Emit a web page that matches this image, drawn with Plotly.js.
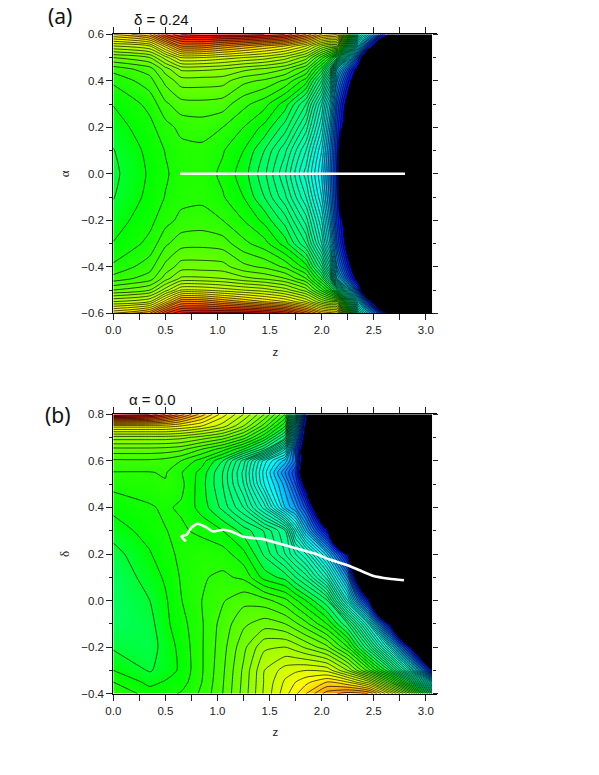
<!DOCTYPE html>
<html>
<head>
<meta charset="utf-8">
<script src="https://cdn.plot.ly/plotly-3.0.1.min.js"></script>
<style>
  html, body { margin: 0; padding: 0; background: #fff; }
  #plot-div { width: 599px; height: 775px; }
</style>
</head>
<body>
<div id="plot-div"></div>
<script>
// Panel (a), grid, in contour steps
const zGridA = [0, 0.35, 0.5, 0.65, 0.85, 1.05, 1.25, 1.45, 1.65, 1.85, 2.0, 2.08, 2.15, 2.35, 2.55, 2.8, 3.06];
const alphaGrid = [-0.6, -0.55, -0.5, -0.45, -0.4, -0.3, -0.2, -0.1, 0, 0.1, 0.2, 0.3, 0.4, 0.45, 0.5, 0.55, 0.6];
const rowAlpha00 = [-0.25, 1.15, 1.85, 2.5, 2.6, 1.75, 0.5, -1.7, -4.9, -9.5, -14, -18, -22.5, -80, -80, -80, -80];
const rowAlpha10 = [-0.05, 1.3, 2.05, 2.65, 2.75, 2.1, 1, -1, -3.8, -8, -13, -17.5, -22.2, -55, -80, -80, -80];
const rowAlpha20 = [0.45, 1.7, 2.6, 3.3, 3.45, 3, 2, 0.7, -1.5, -5.5, -11, -16, -21.5, -31.5, -80, -80, -80];
const rowAlpha30 = [1.05, 2.3, 3.8, 4.6, 4.7, 4.5, 3.3, 2.4, 0.5, -3, -9, -14, -20, -31.6, -80, -80, -80];
const rowAlpha40 = [2.2, 3.6, 5.3, 6.5, 6.5, 6.4, 5.3, 4.8, 3.8, 1.5, -4, -9, -17, -28, -70, -80, -80];
const rowAlpha45 = [3.4, 4.5, 6.5, 8.2, 8.2, 8, 7.3, 6.8, 6, 4, -0.5, -5, -14, -26, -60, -80, -80];
const rowAlpha50 = [6, 7, 9.5, 12, 12, 11.5, 11, 10.5, 9.5, 7.5, 3.5, 1, -3, -21, -46, -70, -80];
const rowAlpha55 = [10, 11, 14.5, 18, 18, 17, 16, 15, 14, 12, 9, 8, 8, -13, -31, -55, -70];
const rowAlpha60 = [15, 17, 21, 23, 23.5, 23.5, 23.5, 23, 22, 19, 16, 15.5, 15, -8, -20, -33, -50];
const energyA = [
  rowAlpha60, rowAlpha55, rowAlpha50, rowAlpha45, rowAlpha40, rowAlpha30, rowAlpha20, rowAlpha10, rowAlpha00,
  rowAlpha10, rowAlpha20, rowAlpha30, rowAlpha40, rowAlpha45, rowAlpha50, rowAlpha55, rowAlpha60
];

// Panel (b)
const zGridB = [0, 0.35, 0.5, 0.65, 0.85, 1.05, 1.25, 1.45, 1.65, 1.75, 1.85, 2.05, 2.25, 2.45, 2.65, 2.85, 3.06];
const deltaGrid = [-0.4, -0.35, -0.3, -0.2, -0.1, 0, 0.1, 0.2, 0.3, 0.4, 0.5, 0.55, 0.6, 0.65, 0.7, 0.75, 0.8];
const energyB = [
  [3, 1.5, 1.7, 2.1, 3.2, 5, 7.4, 10.2, 12.6, 13.8, 15, 17.5, 18.5, 18, 13, 7, -3],
  [2, 0.7, 1.1, 1.5, 3, 4.9, 7.3, 10.1, 12.2, 13, 13.7, 15, 14, 11.5, 6, -1, -12],
  [1, -0.1, 0.45, 1.2, 2.9, 4.8, 7.2, 10, 11.5, 11.8, 12, 11.7, 9, 4.5, -1, -9, -23.5],
  [-0.15, -0.5, 0.45, 1.3, 2.9, 4.6, 6.7, 8.8, 9, 8.5, 7.8, 6.3, 3, -3, -11, -23.5, -40],
  [-0.9, -0.35, 0.75, 1.6, 2.9, 4.4, 5.8, 6.5, 6, 5.2, 4.3, 2, -2, -10, -23.5, -45, -60],
  [-0.95, 0, 0.85, 1.95, 3, 3.9, 4.7, 4.4, 3.3, 2.2, 1, -1.8, -11, -23, -50, -60, -60],
  [-0.9, 0.5, 1.15, 2.1, 2.9, 3.2, 2.8, 0.6, -0.4, -2, -3.5, -8.5, -17, -36, -60, -60, -60],
  [-0.4, 0.9, 1.7, 2.2, 2.75, 2.5, 1.3, -1.2, -4, -6, -8, -14.5, -23.5, -45, -60, -60, -60],
  [0.45, 1.45, 1.97, 2.2, 1.7, 1, -0.4, -2.1, -5, -10.5, -15.5, -24, -50, -60, -60, -60, -60],
  [1.3, 1.9, 2.15, 1.85, 0.6, -1.3, -4, -8.5, -15, -17, -20.5, -32, -60, -60, -60, -60, -60],
  [2.35, 2.5, 2.9, 2.3, 0.4, -2, -6, -12, -16.5, -20, -25.5, -45, -60, -60, -60, -60, -60],
  [2.95, 2.95, 3.1, 2.1, 0.6, -2, -6.3, -12.5, -18, -21, -29, -45, -60, -60, -60, -60, -60],
  [3.8, 3.8, 3.6, 3, 1.5, -1, -5.5, -11.5, -15.5, -19, -29, -45, -60, -60, -60, -60, -60],
  [5.7, 5.7, 5.6, 5.3, 4, 2.5, 0, -3.5, -11, -20, -28, -45, -60, -60, -60, -60, -60],
  [8.5, 8.5, 8.5, 8.3, 7.5, 6.5, 4.5, 1, -4, -16.5, -27, -45, -60, -60, -60, -60, -60],
  [13.5, 13.5, 13.5, 13, 12, 10.5, 8, 4.5, 0, -13, -26, -45, -60, -60, -60, -60, -60],
  [24, 23, 21, 18.5, 15.5, 12.5, 10, 7, 3, -7, -23.5, -40, -60, -60, -60, -60, -60]
];

// White paths
const pathZA = [0.64, 2.8];
const pathAlpha = [0, 0];
const pathZB = [0.696, 0.655, 0.703, 0.75, 0.808, 0.879, 0.958, 1.054, 1.134, 1.246, 1.438, 1.661, 1.949, 2.077, 2.236, 2.364, 2.49, 2.65, 2.79];
const pathDelta = [0.254, 0.276, 0.283, 0.314, 0.33, 0.318, 0.297, 0.304, 0.297, 0.274, 0.264, 0.236, 0.2, 0.176, 0.154, 0.13, 0.107, 0.094, 0.087];

// Colour scale stops, black below the blue end
const scaleValues = [-24, -23.6, -23.6, -13, -1, 1, 13.5, 23, 25];
const scaleColors = ['#000000', '#000000', '#0000ff', '#00ffff', '#00ff60', '#00ff00', '#ffff00', '#ff0000', '#ff0000'];
const zMin = -24, zMax = 25;
const colorscale = scaleValues.map((v, i) => [(v - zMin) / (zMax - zMin), scaleColors[i]]);

const W = 599, H = 775;
const pxX = (x) => x / W;
const pxY = (y) => (H - y) / H;

const contourTrace = (x, y, z, xa, ya) => ({
  type: 'contour', x: x, y: y, z: z, xaxis: xa, yaxis: ya,
  autocontour: false, showscale: false, hoverinfo: 'skip',
  zmin: zMin, zmax: zMax, colorscale: colorscale,
  contours: { coloring: 'heatmap', start: -23, end: 30, size: 1, showlines: true },
  line: { color: '#000', width: 0.7, smoothing: 0.6 }
});

const pathTrace = (x, y, xa, ya) => ({
  type: 'scatter', mode: 'lines', x: x, y: y, xaxis: xa, yaxis: ya,
  line: { color: '#fff', width: 2.6, shape: 'spline', smoothing: 0.5 }, hoverinfo: 'skip', showlegend: false
});

const tickFont = { family: 'Liberation Sans, Arial, sans-serif', size: 11.5, color: '#222' };
const symFont = { family: 'Liberation Serif, serif', size: 13, color: '#222' };

const xAxisStyle = (anchor, title) => ({
  domain: [pxX(113.3), pxX(437.3)], range: [0, 3.11], anchor: anchor,
  dtick: 0.5, tick0: 0, tickformat: '.1f', ticks: 'outside', ticklen: 6, tickwidth: 1, tickcolor: '#222',
  minor: { dtick: 0.25, ticks: 'outside', ticklen: 3, tickwidth: 1, tickcolor: '#222' },
  showline: true, linecolor: '#000', linewidth: 1, mirror: 'allticks', showgrid: false, zeroline: false,
  tickfont: tickFont, title: { text: title, font: tickFont, standoff: 12 }
});

const yAxisStyle = (anchor, domain, range, dtick, title) => ({
  domain: domain, range: range, anchor: anchor,
  dtick: dtick, tickformat: '.1f', ticks: 'outside', ticklen: 6, tickwidth: 1, tickcolor: '#222',
  minor: { dtick: dtick / 2, ticks: 'outside', ticklen: 3, tickwidth: 1, tickcolor: '#222' },
  showline: true, linecolor: '#000', linewidth: 1, showgrid: false, zeroline: false,
  tickfont: tickFont, title: { text: title, font: symFont, standoff: 8 }
});

// Right hand tick rows sit on the edge of the field, not on the end of the x axis
const rightAxisStyle = (overlay, range, dtick) => ({
  overlaying: overlay, side: 'right', anchor: 'free', position: pxX(431.6), range: range,
  dtick: dtick, ticks: 'outside', ticklen: 5, tickwidth: 1, tickcolor: '#222',
  minor: { dtick: dtick / 2, ticks: 'outside', ticklen: 3, tickwidth: 1, tickcolor: '#222' },
  showticklabels: false, showline: false, showgrid: false, zeroline: false
});

const label = (text, x, y, size, family) => ({
  xref: 'paper', yref: 'paper', x: pxX(x), y: pxY(y), xanchor: 'left', yanchor: 'middle',
  showarrow: false, text: text, font: { family: family, size: size, color: '#111' }
});

const rangeA = [-0.6, 0.6];
const rangeB = [-0.4, 0.8];

const plotData = [
  contourTrace(zGridA, alphaGrid, energyA, 'x', 'y'),
  pathTrace(pathZA, pathAlpha, 'x', 'y'),
  contourTrace(zGridB, deltaGrid, energyB, 'x2', 'y2'),
  pathTrace(pathZB, pathDelta, 'x2', 'y2'),
  // empty traces so the right hand axes exist
  { type: 'scatter', x: [], y: [], xaxis: 'x', yaxis: 'y3', showlegend: false },
  { type: 'scatter', x: [], y: [], xaxis: 'x2', yaxis: 'y4', showlegend: false }
];

const layout = {
  width: W, height: H, margin: { l: 0, r: 0, t: 0, b: 0 },
  paper_bgcolor: '#fff', plot_bgcolor: '#fff', showlegend: false,
  xaxis: xAxisStyle('y', 'z'),
  yaxis: yAxisStyle('x', [pxY(313.3), pxY(34.3)], rangeA, 0.2, 'α'),
  xaxis2: xAxisStyle('y2', 'z'),
  yaxis2: yAxisStyle('x2', [pxY(693.7), pxY(414.3)], rangeB, 0.2, 'δ'),
  yaxis3: Object.assign(rightAxisStyle('y', rangeA, 0.2), { domain: [pxY(313.3), pxY(34.3)] }),
  yaxis4: Object.assign(rightAxisStyle('y2', rangeB, 0.2), { domain: [pxY(693.7), pxY(414.3)] }),
  annotations: [
    label('(a)', 46, 16, 21, 'Noto Sans, sans-serif'),
    label('δ = 0.24', 132, 19, 15, 'Liberation Sans, Arial, sans-serif'),
    label('α = 0.0', 127, 399, 15, 'Liberation Sans, Arial, sans-serif'),
    label('(b)', 43, 415, 21, 'Noto Sans, sans-serif')
  ]
};

Plotly.newPlot('plot-div', plotData, layout, { displayModeBar: false, staticPlot: true });
</script>
</body>
</html>
